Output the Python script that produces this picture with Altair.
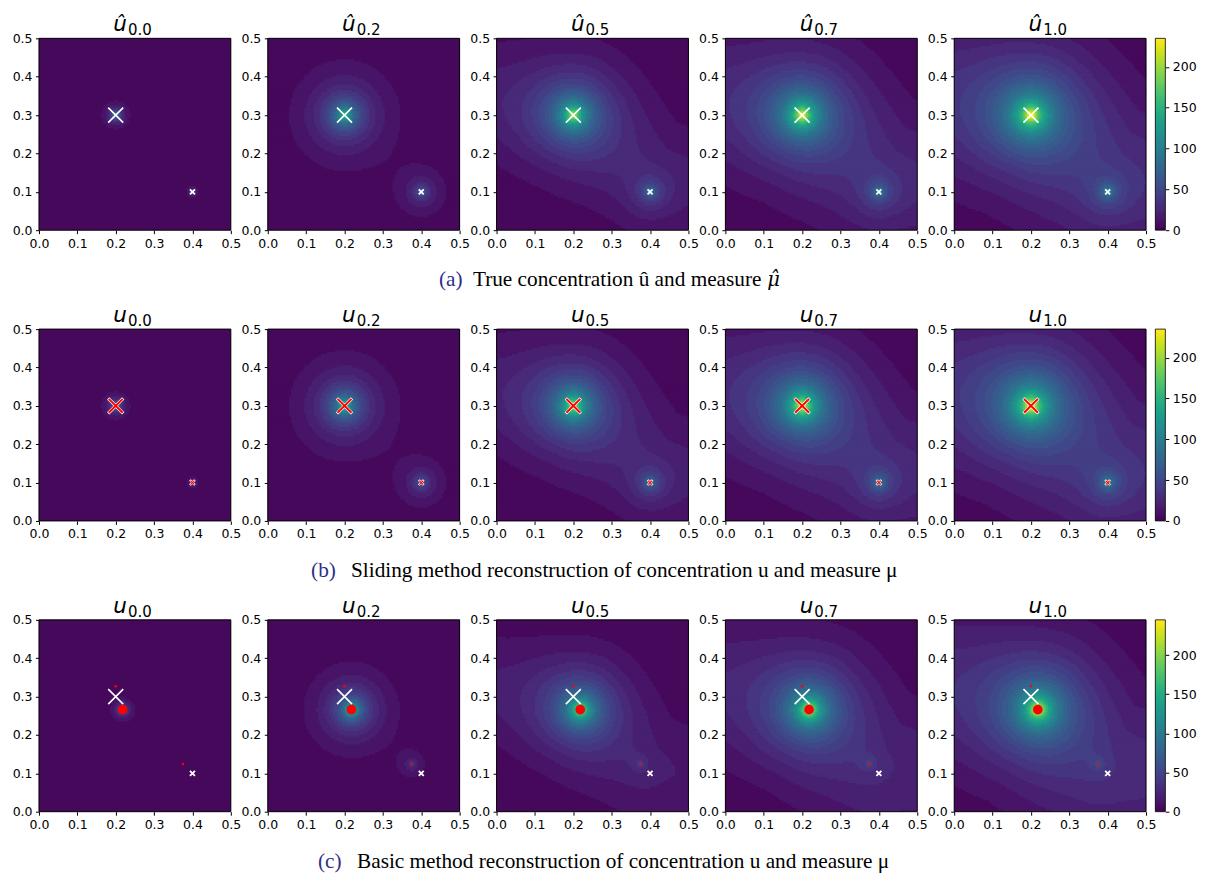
import numpy as np
import pandas as pd
import altair as alt

# ---------------- data ----------------
TIMES = ["0.0", "0.2", "0.5", "0.7", "1.0"]
AXIS_TICKS = [0.0, 0.1, 0.2, 0.3, 0.4, 0.5]
CBAR_TICKS = [0, 50, 100, 150, 200]

# true measure (white crosses) and sliding reconstruction (red crosses)
TRUE_X = [0.2, 0.4]
TRUE_Y = [0.3, 0.1]
SLIDE_X = [0.2, 0.4]
SLIDE_Y = [0.3, 0.1]
# basic reconstruction (red dots): big, small, small
BASIC_X = [0.218, 0.2, 0.375]
BASIC_Y = [0.266, 0.327, 0.124]

# concentration field read-off: source cores (amplitude, spread) and plume
A_VMAX = 235
A_C1_AMP = [150, 175, 215, 228, 235]
A_C1_LEN = [0.0168, 0.060, 0.070, 0.077, 0.083]
A_C2_AMP = [60, 75, 85, 88, 90]
A_C2_LEN = [0.0126, 0.040, 0.035, 0.035, 0.035]
A_PL_AMP = [0, 0, 16, 22, 27]
A_PL_WID = [0.05, 0.06, 0.103, 0.125, 0.14]
A_PATH_X = [-0.1, 0.2, 0.42, 0.6]
A_PATH_Y = [0.36, 0.3, 0.13, 0.13]

B_VMAX = 235
B_C1_AMP = [150, 175, 215, 228, 235]
B_C1_LEN = [0.0168, 0.060, 0.070, 0.077, 0.083]
B_C2_AMP = [60, 75, 85, 88, 90]
B_C2_LEN = [0.0126, 0.040, 0.035, 0.035, 0.035]
B_PL_AMP = [0, 0, 16, 22, 27]
B_PL_WID = [0.05, 0.06, 0.103, 0.125, 0.14]

C_VMAX = 245
C_C1_AMP = [160, 190, 225, 238, 245]
C_C1_LEN = [0.0142, 0.051, 0.065, 0.072, 0.078]
C_C2_AMP = [0, 45, 35, 35, 35]
C_C2_LEN = [0.01, 0.028, 0.02, 0.02, 0.02]
C_PL_AMP = [0, 0, 15, 21, 26]
C_PL_WID = [0.05, 0.06, 0.10, 0.125, 0.14]
C_PATH_X = [-0.1, 0.218, 0.40, 0.6]
C_PATH_Y = [0.35, 0.266, 0.10, 0.10]

CAP_LABELS = ["(a)", "(b)", "(c)"]
CAP_TEXTS = ["True concentration û and measure",
             "Sliding method reconstruction of concentration u and measure μ",
             "Basic method reconstruction of concentration u and measure μ"]

NLEV = 30
N = 100
W = 192
H = 192
XPATH = "M-1,-1L1,1M-1,1L1,-1"
P3_LEFT = 497.7  # page x of the third panel's plot area (for caption placement)
CAP_FS = 21.3


def field_df(src_x, src_y, amps, lens, pl_amp, pl_wid, path_x, path_y, vmax):
    d = 0.5 / N
    c = (np.arange(N) + 0.5) * d
    X, Y = np.meshgrid(c, c)
    F = np.zeros_like(X)
    for cx, cy, a, L in zip(src_x, src_y, amps, lens):
        r = np.hypot(X - cx, Y - cy)
        F += a * (0.5 * np.exp(-r / (0.3 * L)) + 0.5 * np.exp(-r / L))
    dist = np.full_like(X, np.inf)
    for i in range(len(path_x) - 1):
        x0, y0, x1, y1 = path_x[i], path_y[i], path_x[i + 1], path_y[i + 1]
        vx, vy = x1 - x0, y1 - y0
        t = np.clip(((X - x0) * vx + (Y - y0) * vy) / (vx * vx + vy * vy), 0, 1)
        dd = np.hypot(X - (x0 + t * vx), Y - (y0 + t * vy))
        dist = np.minimum(dist, dd)
    F += pl_amp * np.exp(-dist ** 2 / (2 * pl_wid ** 2))
    step = vmax / NLEV
    k = np.clip(np.floor(F / step), 0, NLEV - 1).astype(int)
    recs = []
    for j in range(N):
        row = k[j]
        s = 0
        for i in range(1, N + 1):
            if i == N or row[i] != row[s]:
                # each run overlaps half a cell into the next one (drawn later) to hide seams
                recs.append((s * d, min(i * d + d / 2, 0.5), j * d, min((j + 1) * d + d / 2, 0.5),
                             (row[s] + 0.5) * step))
                s = i
    return pd.DataFrame(recs, columns=["x", "x2", "y", "y2", "v"])


one = pd.DataFrame({"a": [0]})
SC = alt.Scale(domain=[0, 0.5], nice=False, zero=False)


def axis():
    return alt.Axis(values=AXIS_TICKS, format=".1f", title=None, labelFlush=False,
                    labelOverlap=False, tickSize=3.5, labelPadding=3.5, tickCount=6)


def xy():
    return dict(x=alt.X("x:Q", scale=SC, axis=axis()), y=alt.Y("y:Q", scale=SC, axis=axis()))


def xmarks(xs, ys, size, color, sw):
    return alt.Chart(pd.DataFrame({"x": xs, "y": ys})).mark_point(
        shape=XPATH, size=size, filled=False, stroke=color, strokeWidth=sw, opacity=1
    ).encode(**xy())


def dots(xs, ys, size):
    return alt.Chart(pd.DataFrame({"x": xs, "y": ys})).mark_circle(
        size=size, color="#ff0000", opacity=1
    ).encode(**xy())


def txt(text, x, y, size, align="left", font="Liberation Serif", color="black", style="normal"):
    return alt.Chart(one).mark_text(text=text, font=font, fontSize=size, align=align, fontStyle=style,
                                    baseline="alphabetic", color=color).encode(
        x=alt.value(x), y=alt.value(y))


def caption_layers(ri):
    y = H + 56
    if ri == 0:
        x0 = 440
        out = [txt(CAP_LABELS[0], x0 - P3_LEFT, y, CAP_FS, color="#2e2e8a")]
        tx = x0 + 34
        out.append(txt(CAP_TEXTS[0], tx - P3_LEFT, y, CAP_FS))
        mx = tx + 289 + 5.5
        out.append(txt("μ̂", mx - P3_LEFT, y, 19.5, font="DejaVu Serif", style="italic"))
        return out
    lx = [312, 319][ri - 1]
    tx = [352, 358][ri - 1]
    return [txt(CAP_LABELS[ri], lx - P3_LEFT, y, CAP_FS, color="#2e2e8a"),
            txt(CAP_TEXTS[ri], tx - P3_LEFT, y, CAP_FS)]


def panel(df, vmax, hat, sub, markers, ri, caption=False, cbar=False):
    cs = alt.Scale(scheme="viridis", domain=[0, vmax])
    heat = alt.Chart(df).mark_rect().encode(
        x2="x2:Q", y2="y2:Q",
        color=alt.Color("v:Q", scale=cs, legend=None),
        **xy()
    )
    frame = alt.Chart(one).mark_rect(fill=None, stroke="black", strokeWidth=1).encode(
        x=alt.value(0), x2=alt.value(W), y=alt.value(0), y2=alt.value(H))
    t1 = txt("û" if hat else "u", 88, -7.3, 21.5, align="right", font="DejaVu Sans", style="italic")
    t2 = txt(sub, 89, -3.3, 15, font="DejaVu Sans")
    layers = [heat] + markers + [frame, t1, t2]
    if caption:
        layers += caption_layers(ri)
    inner = alt.layer(*layers)
    if not cbar:
        return inner.properties(width=W, height=H)
    lo = np.linspace(0, vmax, 120, endpoint=False)
    dv = vmax / 120
    cdf = pd.DataFrame({"lo": lo, "hi": np.minimum(lo + dv * 1.5, vmax), "v": lo + dv / 2})
    cb = alt.Chart(cdf).mark_rect().encode(
        x=alt.value(201.3), x2=alt.value(211.3),
        y=alt.Y("lo:Q", scale=alt.Scale(domain=[0, vmax], nice=False, zero=True),
                axis=alt.Axis(orient="right", values=CBAR_TICKS, format="d", title=None, offset=19.3,
                              tickSize=3.5, labelPadding=3.5, labelFlush=False, labelOverlap=False)),
        y2="hi:Q",
        color=alt.Color("v:Q", scale=cs, legend=None),
    )
    cbf = alt.Chart(one).mark_rect(fill=None, stroke="black", strokeWidth=0.8).encode(
        x=alt.value(201.3), x2=alt.value(211.3), y=alt.value(0), y2=alt.value(H))
    return alt.layer(inner, cb, cbf).resolve_scale(y="independent").properties(width=W, height=H)


panels = []
specs = [
    ("a", True, A_VMAX, A_C1_AMP, A_C1_LEN, A_C2_AMP, A_C2_LEN, A_PL_AMP, A_PL_WID, A_PATH_X, A_PATH_Y, TRUE_X, TRUE_Y),
    ("b", False, B_VMAX, B_C1_AMP, B_C1_LEN, B_C2_AMP, B_C2_LEN, B_PL_AMP, B_PL_WID, A_PATH_X, A_PATH_Y, SLIDE_X, SLIDE_Y),
    ("c", False, C_VMAX, C_C1_AMP, C_C1_LEN, C_C2_AMP, C_C2_LEN, C_PL_AMP, C_PL_WID, C_PATH_X, C_PATH_Y,
     [BASIC_X[0], BASIC_X[2]], [BASIC_Y[0], BASIC_Y[2]]),
]
for ri, (name, hat, vmax, a1, l1, a2, l2, pa, pw, px, py, sx, sy) in enumerate(specs):
    for ti, tl in enumerate(TIMES):
        df = field_df(sx, sy, [a1[ti], a2[ti]], [l1[ti], l2[ti]], pa[ti], pw[ti], px, py, vmax)
        if name == "a":
            mk = [xmarks([TRUE_X[0]], [TRUE_Y[0]], 225, "white", 1.6),
                  xmarks([TRUE_X[1]], [TRUE_Y[1]], 25, "white", 1.8)]
        elif name == "b":
            mk = [xmarks([TRUE_X[0]], [TRUE_Y[0]], 225, "white", 3.2),
                  xmarks([SLIDE_X[0]], [SLIDE_Y[0]], 196, "#ff0000", 2.0),
                  xmarks([TRUE_X[1]], [TRUE_Y[1]], 25, "white", 2.2),
                  xmarks([SLIDE_X[1]], [SLIDE_Y[1]], 16, "#ff0000", 1.2)]
        else:
            mk = [xmarks([TRUE_X[0]], [TRUE_Y[0]], 225, "white", 1.6),
                  xmarks([TRUE_X[1]], [TRUE_Y[1]], 25, "white", 1.8),
                  dots([BASIC_X[0]], [BASIC_Y[0]], 95),
                  dots(BASIC_X[1:], BASIC_Y[1:], 7)]
        panels.append(panel(df, vmax, hat, tl, mk, ri, caption=(ti == 2), cbar=(ti == 4)))

chart = alt.concat(*panels, columns=5, spacing={"row": 99, "column": 37}, bounds="flush").resolve_scale(
    color="independent"
).properties(
    padding={"left": 4, "top": 5, "right": 5, "bottom": 5}
).configure_view(stroke=None).configure_axis(
    labelFont="DejaVu Sans", labelFontSize=12.5, labelColor="black",
    tickColor="black", tickWidth=1, domain=False, grid=False
)

chart.save("out.html", embed_options={"renderer": "svg", "actions": False})
